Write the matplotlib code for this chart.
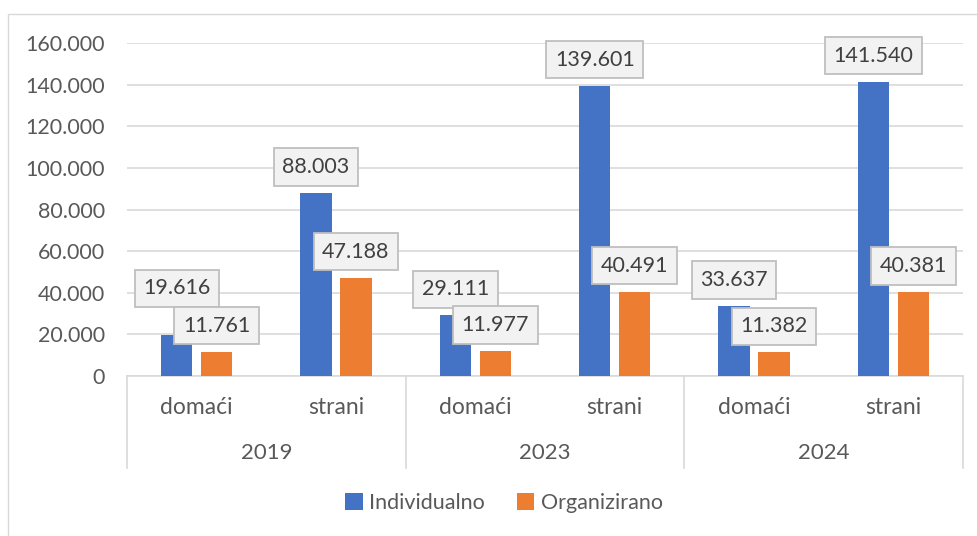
import numpy as np
import matplotlib.pyplot as plt
from matplotlib.patches import Rectangle
from matplotlib.ticker import FuncFormatter
import matplotlib.transforms as mtransforms

# Podaci
years = ['2019', '2023', '2024']
subcats = ['domaći', 'strani']
individualno = [19616, 88003, 29111, 139601, 33637, 141540]
organizirano = [11761, 47188, 11977, 40491, 11382, 40381]
series_names = ['Individualno', 'Organizirano']
yticks = np.arange(0, 160001, 20000)

# Boje i stil
c_blue = '#4472C4'
c_orange = '#ED7D31'
c_grid = '#D9D9D9'
c_text = '#595959'

plt.rcParams['font.family'] = ['Lato', 'DejaVu Sans']

def fmt(v):
    return '{:,}'.format(int(v)).replace(',', '.')

W, H = 977, 536
fig = plt.figure(figsize=(W/100, H/100), dpi=100)

# okvir grafikona
fig.patches.append(Rectangle((8/W, -0.1), 1.2, 1-14/H+0.1, transform=fig.transFigure,
                             fill=False, edgecolor=c_grid, linewidth=1))

left, right, top, bottom = 127, 963, 43.3, 376
ax = fig.add_axes([left/W, 1-bottom/H, (right-left)/W, (bottom-top)/H])

x = np.arange(len(individualno))
bw = 0.225
off = 0.143
b1 = ax.bar(x-off, individualno, bw, color=c_blue, label=series_names[0], zorder=3)
b2 = ax.bar(x+off, organizirano, bw, color=c_orange, label=series_names[1], zorder=3)

ax.set_xlim(-0.5, len(x)-0.5)
ax.set_ylim(0, 160000)
ax.set_yticks(yticks)
ax.yaxis.set_major_formatter(FuncFormatter(lambda v, p: fmt(v)))
ax.tick_params(axis='y', length=0, pad=16, labelsize=15.5, labelcolor=c_text)
ax.set_xticks([])
ax.grid(axis='y', color=c_grid, linewidth=1.2, zorder=0)
for s in ['top', 'right', 'left']:
    ax.spines[s].set_visible(False)
ax.spines['bottom'].set_color(c_grid)
ax.spines['bottom'].set_linewidth(1.2)

# kategorije na x osi (dvije razine)
tr = mtransforms.blended_transform_factory(ax.transData, ax.transAxes)
hgt = bottom - top
for i in x:
    ax.text(i, -31/hgt, subcats[i % 2], transform=tr, ha='center', va='center',
            fontsize=16.5, color=c_text)
for k, yr in enumerate(years):
    ax.text(2*k+0.5, -77/hgt, yr, transform=tr, ha='center', va='center',
            fontsize=16, color=c_text)
for xs in np.arange(-0.5, len(x), 2):
    ax.plot([xs, xs], [0, -92/hgt], transform=tr, color=c_grid, linewidth=1.2,
            clip_on=False)

# oznake vrijednosti
lift = {(0, 0): 21}
for j, bars in enumerate([b1, b2]):
    for i, b in enumerate(bars):
        v = b.get_height()
        dy = (16 + lift.get((j, i), 0)) * 0.72
        ax.annotate(fmt(v), (b.get_x()+b.get_width()/2, v), xytext=(0, dy),
                    textcoords='offset points', ha='center', va='bottom',
                    fontsize=15.5, color='#404040', zorder=5,
                    bbox=dict(boxstyle='square,pad=0.4', facecolor='#F2F2F2',
                              edgecolor='#BFBFBF', linewidth=1.3))

fig.legend(handles=[b1, b2], loc='center', bbox_to_anchor=(504/W, 1-503/H),
           ncol=2, frameon=False, fontsize=15.5, labelcolor=c_text,
           handlelength=0.8, handleheight=0.8, handletextpad=0.3, columnspacing=1.5)

fig.savefig('out.png', dpi=100)
